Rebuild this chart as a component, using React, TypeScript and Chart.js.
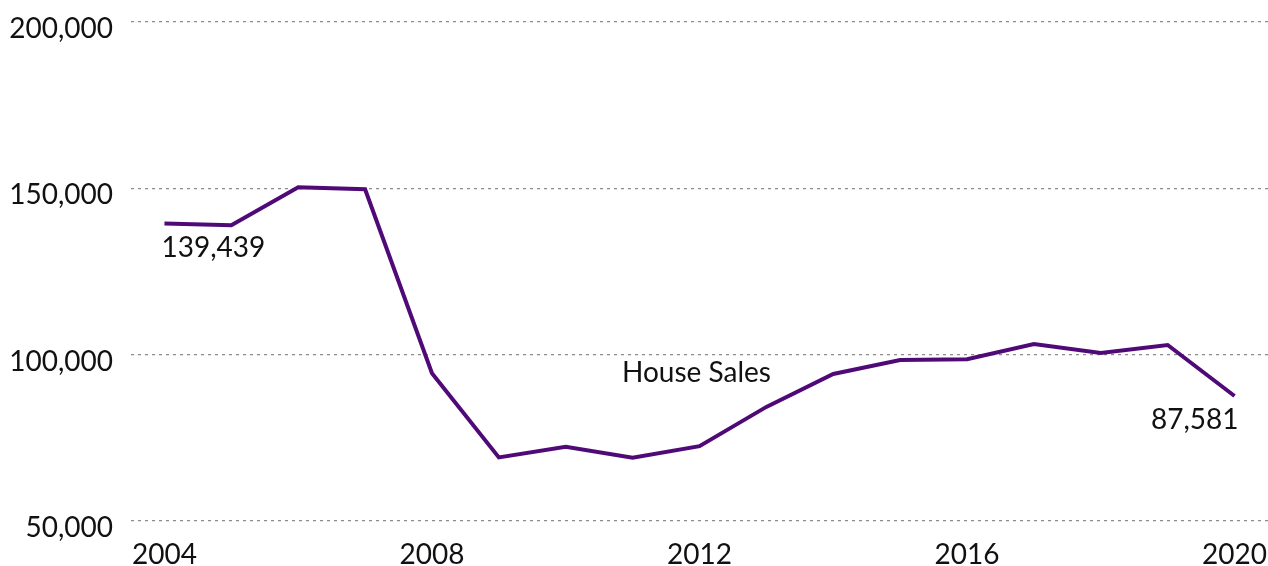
import React, { useEffect, useRef } from "react";
import { Chart, registerables } from "chart.js";

Chart.register(...registerables);

const years = ["2004","2005","2006","2007","2008","2009","2010","2011","2012","2013","2014","2015","2016","2017","2018","2019","2020"];
const houseSales = [139439, 138900, 150300, 149700, 94400, 69100, 72300, 69000, 72500, 84300, 94200, 98400, 98600, 103200, 100500, 102900, 87581];
const yTicks = [50000, 100000, 150000, 200000];
const seriesName = "House Sales";
const FONT = "Lato, 'Noto Sans', sans-serif";

const labelPlugin = {
  id: "labels",
  afterDatasetsDraw(chart: any) {
    const ctx = chart.ctx;
    const meta = chart.getDatasetMeta(0);
    const first = meta.data[0];
    const last = meta.data[meta.data.length - 1];
    const xs = chart.scales.x;
    const ys = chart.scales.y;
    ctx.save();
    ctx.fillStyle = "#111";
    ctx.font = `28px ${FONT}`;
    ctx.textBaseline = "middle";
    ctx.textAlign = "left";
    ctx.fillText(houseSales[0].toLocaleString("en-US"), first.x - 3, first.y + 25);
    ctx.textAlign = "right";
    ctx.fillText(houseSales[houseSales.length - 1].toLocaleString("en-US"), last.x + 4, last.y + 24);
    ctx.textAlign = "center";
    ctx.fillText(seriesName, xs.getPixelForValue(8) - 3, ys.getPixelForValue(94400));
    ctx.restore();
  },
};

export default function App() {
  const ref = useRef<HTMLCanvasElement>(null);
  useEffect(() => {
    document.body.style.margin = "0";
    const chart = new Chart(ref.current!, {
      type: "line",
      data: {
        labels: years,
        datasets: [
          {
            label: seriesName,
            data: houseSales,
            borderColor: "#500a78",
            borderWidth: 4,
            pointRadius: 0,
            tension: 0,
            fill: false,
          },
        ],
      },
      options: {
        animation: false,
        responsive: false,
        maintainAspectRatio: false,
        layout: { autoPadding: false, padding: { top: 22, left: 0, right: 0, bottom: 0 } },
        plugins: { legend: { display: false }, tooltip: { enabled: false } },
        scales: {
          x: {
            type: "category",
            offset: true,
            grid: { display: false, drawTicks: false },
            border: { display: false },
            afterFit: (s: any) => {
              s.height = 45;
              s.paddingLeft = 0;
              s.paddingRight = 0;
            },
            ticks: {
              autoSkip: false,
              maxRotation: 0,
              padding: 17,
              color: "#111",
              font: { family: FONT, size: 28 },
              callback: (_v: any, i: number) => (Number(years[i]) % 4 === 0 ? years[i] : ""),
            },
          },
          y: {
            min: yTicks[0],
            max: yTicks[yTicks.length - 1],
            afterBuildTicks: (s: any) => {
              s.ticks = yTicks.map((v) => ({ value: v }));
            },
            afterFit: (s: any) => {
              s.width = 131;
              s.paddingTop = 0;
              s.paddingBottom = 0;
            },
            grid: {
              color: "#8c8c8c",
              lineWidth: 1.3,
              drawTicks: false,
            },
            border: { display: false, dash: [3, 4] },
            ticks: {
              padding: 18,
              labelOffset: 7,
              color: "#111",
              font: { family: FONT, size: 28 },
              callback: (v: any) => Number(v).toLocaleString("en-US"),
            },
          },
        },
      },
      plugins: [labelPlugin],
    });
    return () => chart.destroy();
  }, []);
  return (
    <div style={{ position: "fixed", left: 0, top: 0, width: 1268, height: 566 }}>
      <canvas ref={ref} width={1268} height={566} style={{ width: 1268, height: 566 }} />
    </div>
  );
}
